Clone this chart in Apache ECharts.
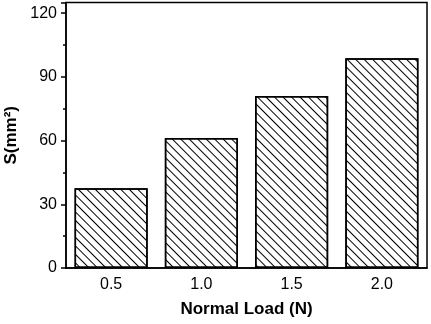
<!DOCTYPE html>
<html>

<head>
    <meta charset="utf-8">
    <title></title>
    <script src="https://cdn.jsdelivr.net/npm/echarts@6/dist/echarts.min.js"></script>
</head>
<style>
    html, body {
        margin: 0;
        padding: 0;
        background: #fff;
    }
</style>

<body>
    <div id="chart_box" style="width: 431px;height:324px;"></div>

    <script>
        // data
        var loads = ['0.5', '1.0', '1.5', '2.0'];
        var areaS = [37.5, 61.2, 81.0, 98.8];
        var yMin = 0;
        var yMax = 125;
        var yStep = 30;

        var myChart = echarts.init(document.getElementById('chart_box'));
        var font = "'Liberation Sans', Arial, sans-serif";

        var option = {
            animation: false,
            grid: {
                left: 66,
                right: 4,
                top: 2.5,
                bottom: 56,
                show: true,
                borderColor: '#000',
                borderWidth: 1.5,
                outerBoundsMode: 'none'
            },
            xAxis: [{
                type: 'category',
                data: loads,
                boundaryGap: true,
                name: 'Normal Load (N)',
                nameLocation: 'middle',
                nameGap: 33,
                nameTextStyle: {
                    color: '#000',
                    fontFamily: font,
                    fontSize: 17,
                    fontWeight: 'bold'
                },
                axisLine: {
                    lineStyle: { color: '#000', width: 1.5 }
                },
                axisTick: {
                    interval: 0,
                    length: 5,
                    lineStyle: { color: '#000', width: 1.5 }
                },
                axisLabel: {
                    color: '#000',
                    fontFamily: font,
                    fontSize: 16,
                    margin: 9
                }
            }, {
                // short ticks under each bar
                type: 'category',
                data: loads,
                position: 'bottom',
                axisLine: { show: false },
                axisTick: {
                    alignWithLabel: true,
                    interval: 0,
                    length: 4,
                    lineStyle: { color: '#000', width: 1.5 }
                },
                axisLabel: { show: false }
            }],
            yAxis: {
                type: 'value',
                min: yMin,
                max: yMax,
                interval: yStep,
                name: 'S(mm²)',
                nameLocation: 'middle',
                nameGap: 40,
                nameTextStyle: {
                    color: '#000',
                    fontFamily: font,
                    fontSize: 17,
                    fontWeight: 'bold'
                },
                splitLine: { show: false },
                axisLine: {
                    show: true,
                    lineStyle: { color: '#000', width: 1.5 }
                },
                axisTick: {
                    show: true,
                    length: 5,
                    lineStyle: { color: '#000', width: 1.5 }
                },
                minorTick: {
                    show: true,
                    splitNumber: 2,
                    length: 3,
                    lineStyle: { color: '#000', width: 1.5 }
                },
                axisLabel: {
                    color: '#000',
                    fontFamily: font,
                    fontSize: 16,
                    margin: 9,
                    showMaxLabel: false
                }
            },
            series: [{
                type: 'bar',
                data: areaS,
                barWidth: '81%',
                itemStyle: {
                    color: '#fff',
                    borderColor: '#000',
                    borderWidth: 1.5,
                    decal: {
                        symbol: 'rect',
                        symbolSize: 1,
                        dashArrayX: [1, 0],
                        dashArrayY: [1, 4.6],
                        rotation: Math.PI / 4,
                        color: '#000'
                    }
                }
            }]
        };
        myChart.setOption(option);
    </script>
</body>

</html>
